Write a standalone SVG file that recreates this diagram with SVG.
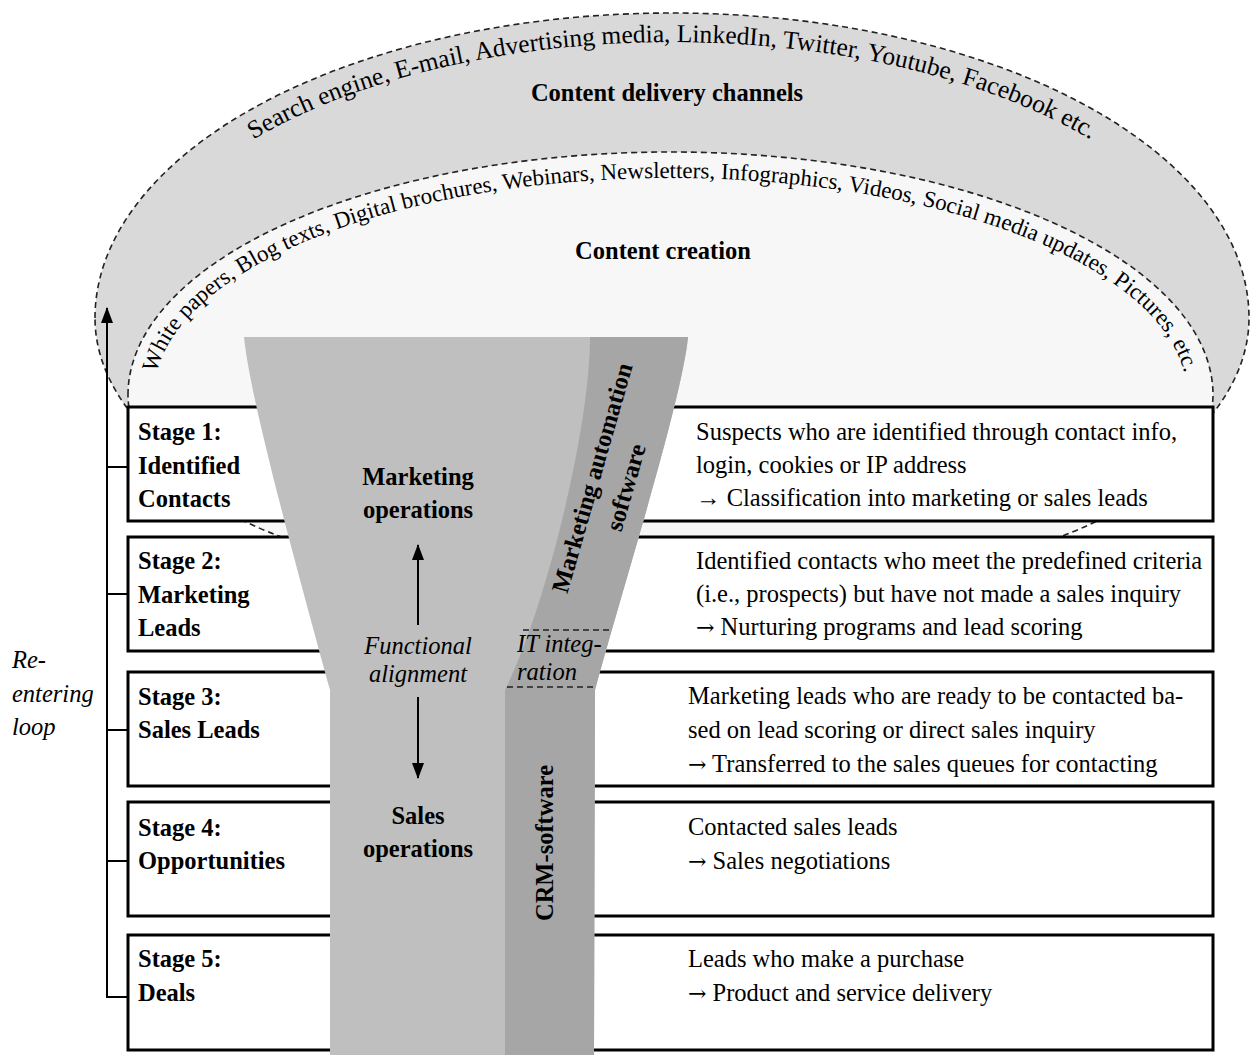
<svg xmlns="http://www.w3.org/2000/svg" width="1250" height="1055" viewBox="0 0 1250 1055">
<style>
text{font-family:"Liberation Serif","Times New Roman",serif;font-size:24.5px;fill:#000}
.b{font-weight:bold}
.i{font-style:italic}
.mid{text-anchor:middle}
.arr{font-family:"DejaVu Serif","DejaVu Sans",serif;font-size:22px}
.dash{fill:none;stroke:#222;stroke-width:1.6;stroke-dasharray:6 4}
.box{fill:#fff;stroke:#000;stroke-width:3}
.ln{fill:none;stroke:#000;stroke-width:2}
</style>
<defs>
<marker id="ah" viewBox="0 0 16 12" refX="15" refY="6" markerWidth="16" markerHeight="12" markerUnits="userSpaceOnUse" orient="auto">
<path d="M0,0 L16,6 L0,12 z" fill="#000"/>
</marker>
<path id="outerTP" d="M 123,318 A 549 276 0 0 1 1221,318"/>
<path id="innerTP" d="M 154,395 A 516.5 217 0 0 1 1187,395"/>
</defs>
<rect x="0" y="0" width="1250" height="1055" fill="#fff"/>

<g id="delivery">
<path d="M 95,318 A 577 305 0 0 1 1249,318 A 577 274 0 0 1 95,318 Z" fill="#d9d9d9" stroke="#222" stroke-width="1.6" stroke-dasharray="6 4"/>
<text style="font-size:25.5px"><textPath href="#outerTP" startOffset="50%" text-anchor="middle">Search engine, E-mail, Advertising media, LinkedIn, Twitter, Youtube, Facebook etc.</textPath></text>
<text class="b mid" x="667" y="101">Content delivery channels</text>
</g>

<g id="creation">
<path d="M 128,395 A 542.5 243 0 0 1 1213,395 A 542.5 204 0 0 1 128,395 Z" fill="#f7f7f7" stroke="#222" stroke-width="1.6" stroke-dasharray="6 4"/>
<text style="font-size:23px"><textPath href="#innerTP" startOffset="50%" text-anchor="middle">White papers, Blog texts, Digital brochures, Webinars, Newsletters, Infographics, Videos, Social media updates, Pictures, etc.</textPath></text>
<text class="b mid" x="663" y="259">Content creation</text>
</g>

<g id="stage1"><rect class="box" x="128" y="407" width="1085" height="114"/></g>
<g id="stage2"><rect class="box" x="128" y="537" width="1085" height="114"/></g>
<g id="stage3"><rect class="box" x="128" y="672" width="1085" height="114"/></g>
<g id="stage4"><rect class="box" x="128" y="802" width="1085" height="114"/></g>
<g id="stage5"><rect class="box" x="128" y="935" width="1085" height="115"/></g>

<g id="funnel">
<path d="M 244,337 L 688,337 C 682,400 625,580 595,690 L 594,1055 L 330,1055 L 330,690 C 300,580 250,400 244,337 Z" fill="#bfbfbf"/>
<path d="M 590,337 L 688,337 C 682,400 625,580 595,690 L 594,1055 L 505,1055 L 505,690 C 545,610 590,430 590,337 Z" fill="#a6a6a6"/>
<text class="b mid" x="418" y="485">Marketing</text>
<text class="b mid" x="418" y="518">operations</text>
<text class="i mid" x="418" y="654">Functional</text>
<text class="i mid" x="418" y="682">alignment</text>
<text class="b mid" x="418" y="824">Sales</text>
<text class="b mid" x="418" y="857">operations</text>
<text class="b mid" transform="translate(600,480) rotate(-74)"><tspan x="0" y="0">Marketing automation</tspan><tspan x="0" y="35">software</tspan></text>
<text class="b mid" transform="translate(553,843) rotate(-90)">CRM-software</text>
</g>

<g id="it-integration">
<line class="dash" x1="523" y1="630" x2="610" y2="630"/>
<line class="dash" x1="507" y1="687" x2="595" y2="687"/>
<text class="i" x="517" y="652">IT integ-</text>
<text class="i" x="517" y="680">ration</text>
</g>

<g id="stage-labels">
<text class="b" x="138" y="440">Stage 1:</text>
<text class="b" x="138" y="474">Identified</text>
<text class="b" x="138" y="507">Contacts</text>
<text class="b" x="138" y="569">Stage 2:</text>
<text class="b" x="138" y="603">Marketing</text>
<text class="b" x="138" y="636">Leads</text>
<text class="b" x="138" y="705">Stage 3:</text>
<text class="b" x="138" y="738">Sales Leads</text>
<text class="b" x="138" y="836">Stage 4:</text>
<text class="b" x="138" y="869">Opportunities</text>
<text class="b" x="138" y="967">Stage 5:</text>
<text class="b" x="138" y="1001">Deals</text>
</g>

<g id="stage-descriptions">
<text x="696" y="440">Suspects who are identified through contact info,</text>
<text x="696" y="473">login, cookies or IP address</text>
<text x="696" y="506">→ Classification into marketing or sales leads</text>
<text x="696" y="569">Identified contacts who meet the predefined criteria</text>
<text x="696" y="602">(i.e., prospects) but have not made a sales inquiry</text>
<text x="696" y="635"><tspan class="arr">→</tspan> Nurturing programs and lead scoring</text>
<text x="688" y="704">Marketing leads who are ready to be contacted ba-</text>
<text x="688" y="738">sed on lead scoring or direct sales inquiry</text>
<text x="688" y="772"><tspan class="arr">→</tspan> Transferred to the sales queues for contacting</text>
<text x="688" y="835">Contacted sales leads</text>
<text x="688" y="869"><tspan class="arr">→</tspan> Sales negotiations</text>
<text x="688" y="967">Leads who make a purchase</text>
<text x="688" y="1001"><tspan class="arr">→</tspan> Product and service delivery</text>
</g>

<g id="loop-label">
<text class="i" x="12" y="668">Re-</text>
<text class="i" x="12" y="702">entering</text>
<text class="i" x="12" y="735">loop</text>
</g>

<g id="connectors">
<line class="ln" x1="418" y1="625" x2="418" y2="545" marker-end="url(#ah)"/>
<line class="ln" x1="418" y1="697" x2="418" y2="778" marker-end="url(#ah)"/>
<path class="ln" d="M 128,997 L 107,997 L 107,308" marker-end="url(#ah)"/>
<line class="ln" x1="107" y1="467" x2="128" y2="467"/>
<line class="ln" x1="107" y1="594" x2="128" y2="594"/>
<line class="ln" x1="107" y1="730" x2="128" y2="730"/>
<line class="ln" x1="107" y1="861" x2="128" y2="861"/>
</g>
</svg>
